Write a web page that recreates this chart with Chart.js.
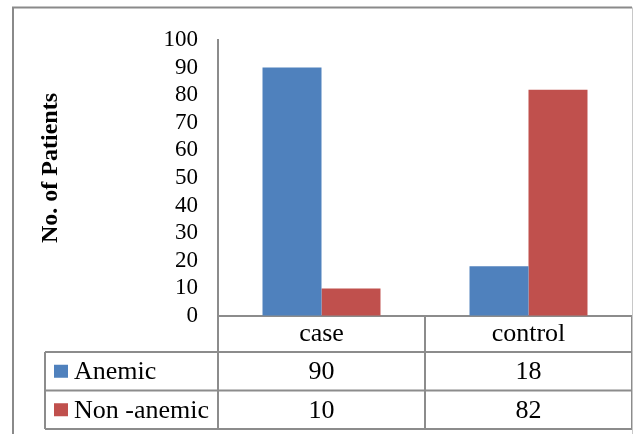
<!DOCTYPE html>
<html>
<head>
<meta charset="utf-8">
<script src="https://cdn.jsdelivr.net/npm/chart.js@4/dist/chart.umd.min.js"></script>
<style>
  html, body { margin: 0; padding: 0; background: #fff; }
  #wrap { position: relative; width: 633px; height: 434px; }
</style>
</head>
<body>
<div id="wrap"><canvas id="c"></canvas></div>
<script>
// Patients by group and anaemia status
const categories = ['case', 'control'];
const seriesNames = ['Anemic', 'Non -anemic'];
const anemic = [90, 18];
const nonAnemic = [10, 82];
const seriesValues = [anemic, nonAnemic];
const seriesColors = ['#4F81BD', '#C0504D'];
const yTitle = 'No. of Patients';

const SERIF = '"Liberation Serif", "Times New Roman", serif';
const LINE = '#8c8c8c';

// Data table under the plot, frame and rotated axis title
const tablePlugin = {
  id: 'dataTable',
  afterDraw(chart) {
    const { ctx, chartArea: a, scales: { x } } = chart;
    const half = (x.getPixelForTick(1) - x.getPixelForTick(0)) / 2;
    const cols = [a.left].concat(categories.map((_, i) => x.getPixelForTick(i) + half));
    const headTop = a.bottom;
    const rowTop = x.bottom;
    const rowH = 38.5;
    const tableLeft = 45;
    const tableBottom = rowTop + rowH * seriesNames.length;

    ctx.save();
    ctx.strokeStyle = LINE;
    ctx.lineWidth = 2;
    ctx.beginPath();
    // horizontal rules
    for (let r = 0; r <= seriesNames.length; r++) {
      const yy = rowTop + r * rowH;
      ctx.moveTo(tableLeft, yy);
      ctx.lineTo(cols[cols.length - 1], yy);
    }
    // column rules
    cols.forEach(cx => { ctx.moveTo(cx, headTop); ctx.lineTo(cx, tableBottom); });
    ctx.moveTo(tableLeft, rowTop);
    ctx.lineTo(tableLeft, tableBottom);
    ctx.stroke();

    // rows: legend key, name, values
    ctx.textBaseline = 'middle';
    seriesNames.forEach((name, r) => {
      const cy = rowTop + r * rowH + rowH / 2;
      ctx.fillStyle = seriesColors[r];
      ctx.fillRect(54, cy - 6.5, 14, 13);
      ctx.fillStyle = '#000';
      ctx.font = '26px ' + SERIF;
      ctx.textAlign = 'left';
      ctx.fillText(name, 74, cy + 1);
      ctx.textAlign = 'center';
      seriesValues[r].forEach((v, i) => {
        ctx.fillText(String(v), x.getPixelForTick(i), cy + 1);
      });
    });

    // outer frame
    ctx.lineWidth = 2;
    ctx.strokeStyle = '#8a8a8a';
    ctx.beginPath();
    ctx.moveTo(13, 440); ctx.lineTo(13, 7.5); ctx.lineTo(632, 7.5);
    ctx.stroke();
    ctx.lineWidth = 1;
    ctx.strokeStyle = '#c8c8c8';
    ctx.beginPath();
    ctx.moveTo(632.5, 7.5); ctx.lineTo(632.5, 440);
    ctx.stroke();

    // y axis title
    ctx.translate(51, 168);
    ctx.rotate(-Math.PI / 2);
    ctx.font = 'bold 24px ' + SERIF;
    ctx.textAlign = 'center';
    ctx.textBaseline = 'middle';
    ctx.fillStyle = '#000';
    ctx.fillText(yTitle, 0, 0);
    ctx.restore();
  }
};

new Chart(document.getElementById('c'), {
  type: 'bar',
  data: {
    labels: categories,
    datasets: seriesNames.map((name, i) => ({
      label: name,
      data: seriesValues[i],
      backgroundColor: seriesColors[i],
      borderWidth: 0,
      categoryPercentage: 0.57,
      barPercentage: 1.0
    }))
  },
  options: {
    responsive: true,
    maintainAspectRatio: false,
    animation: false,
    layout: { padding: { left: 0, right: 1, top: 40, bottom: 82 } },
    plugins: { legend: { display: false }, tooltip: { enabled: false } },
    scales: {
      x: {
        grid: { color: 'rgba(0,0,0,0)', drawTicks: false },
        border: { display: true, color: LINE, width: 2 },
        ticks: { color: '#000', font: { family: SERIF, size: 26 }, padding: 3, maxRotation: 0 },
        afterFit(s) { s.height = 36; s.paddingLeft = 0; s.paddingRight = 0; }
      },
      y: {
        min: 0,
        max: 100,
        grid: { color: 'rgba(0,0,0,0)', drawTicks: false },
        border: { display: true, color: LINE, width: 2 },
        ticks: { stepSize: 10, autoSkip: false, color: '#000', font: { family: SERIF, size: 23 }, padding: 20 },
        afterFit(s) { s.width = 218; s.paddingTop = 0; s.paddingBottom = 0; }
      }
    }
  },
  plugins: [tablePlugin]
});
</script>
</body>
</html>
